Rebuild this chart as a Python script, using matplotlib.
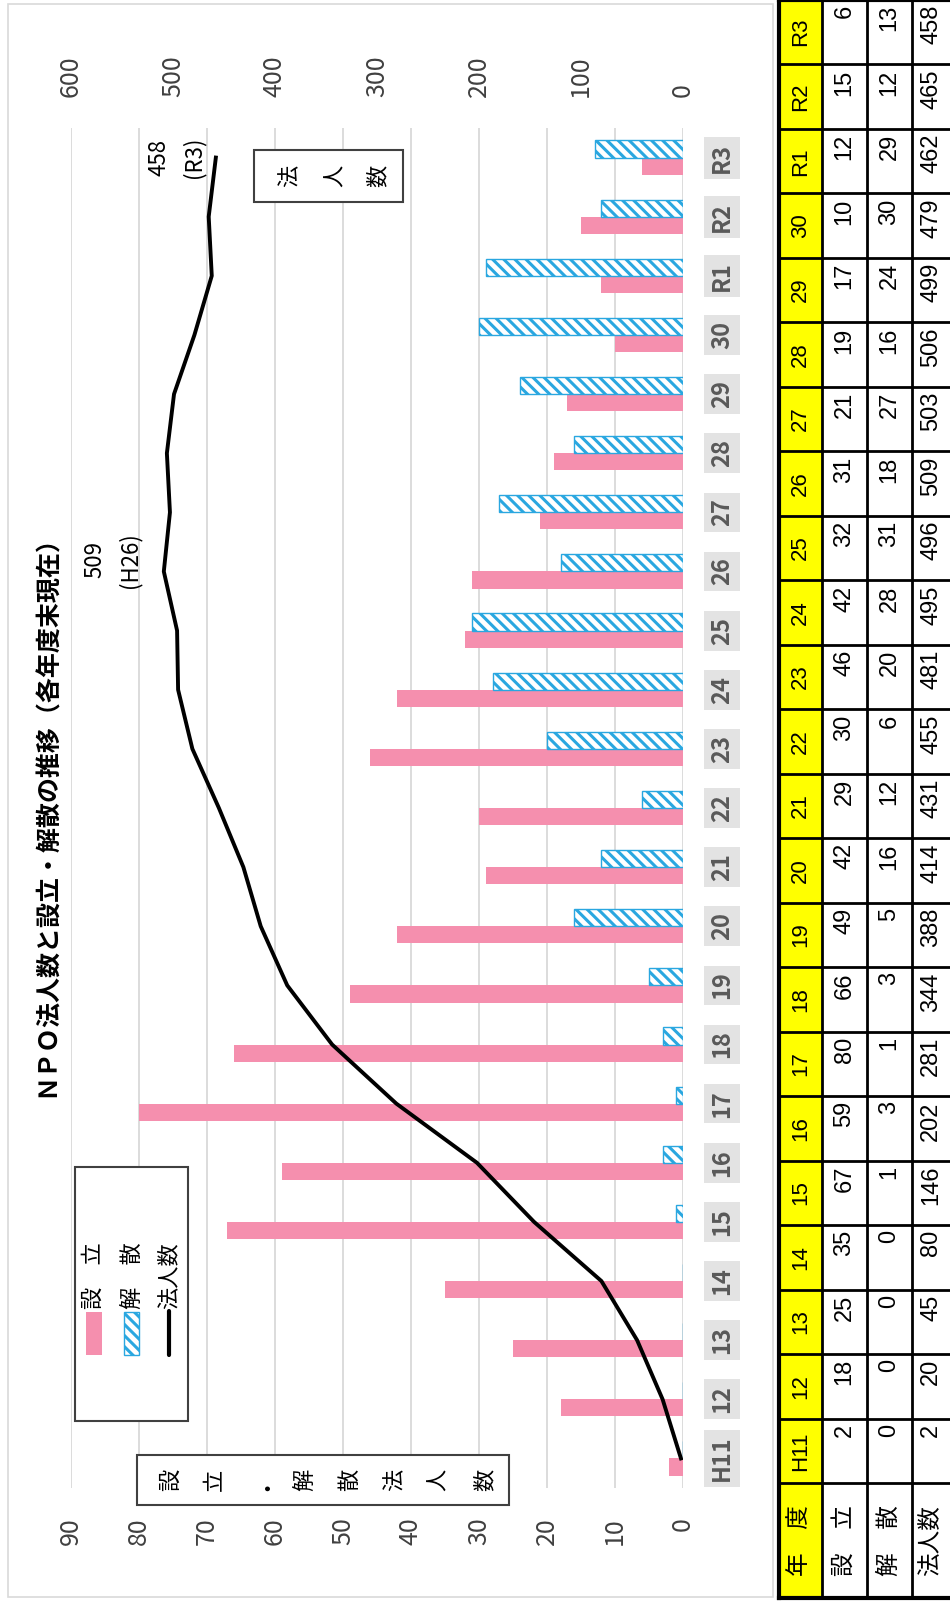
import matplotlib
matplotlib.use("Agg")
import matplotlib.pyplot as plt
from matplotlib.patches import Rectangle
import numpy as np

plt.rcParams["font.family"] = ["Noto Sans CJK JP", "DejaVu Sans"]
plt.rcParams["hatch.linewidth"] = 2.2

# data (fiscal year end)
years = ["H11", "12", "13", "14", "15", "16", "17", "18", "19", "20", "21", "22",
         "23", "24", "25", "26", "27", "28", "29", "30", "R1", "R2", "R3"]
setsuritsu = [2, 18, 25, 35, 67, 59, 80, 66, 49, 42, 29, 30, 46, 42, 32, 31, 21, 19, 17, 10, 12, 15, 6]
kaisan = [0, 0, 0, 0, 1, 3, 1, 3, 5, 16, 12, 6, 20, 28, 31, 18, 27, 16, 24, 30, 29, 12, 13]
houjin = [2, 20, 45, 80, 146, 202, 281, 344, 388, 414, 431, 455, 481, 495, 496, 509, 503, 506,
          499, 479, 462, 465, 458]

PINK = "#F58FAE"
BLUE = "#2AA7E0"
GRID = "#D9D9D9"
TABLE_FONT = ["Liberation Sans", "Noto Sans CJK JP"]

W, H = 950, 1601
fig = plt.figure(figsize=(W / 100, H / 100), dpi=100)


def frac(x0, y0, x1, y1):
    # pixel box (image coords, y down) -> figure fraction
    return [x0 / W, 1 - y1 / H, (x1 - x0) / W, (y1 - y0) / H]


# main chart: rotated layout, values run right-to-left
ax = fig.add_axes(frac(71, 128, 683, 1488))
pos = np.arange(len(years))
bh = 0.29
ax.barh(pos - bh / 2, setsuritsu, height=bh, color=PINK, zorder=2)
ax.barh(pos + bh / 2, kaisan, height=bh, color="white", edgecolor=BLUE,
        hatch="\\\\\\", lw=1, zorder=2)
ax.set_xlim(90, 0)
ax.set_ylim(-0.5, len(years) - 0.5)
ax.set_xticks(range(0, 91, 10))
ax.grid(axis="x", color=GRID, lw=1.3)
ax.set_axisbelow(True)
for s in ax.spines.values():
    s.set_visible(False)
ax.tick_params(axis="x", length=0, pad=21, labelsize=18, labelcolor="#404040",
               labelrotation=90)
ax.yaxis.tick_right()
ax.set_yticks(pos, years, rotation=90, ha="center", va="center", fontweight="bold",
              bbox=dict(facecolor="#E3E3E3", edgecolor="none", pad=2.5))
ax.tick_params(axis="y", length=0, pad=28, labelsize=17, labelcolor="#595959")

ax2 = ax.twiny()
ax2.plot(houjin, pos, color="black", lw=2.8, zorder=3)
ax2.set_xlim(600, 0)
ax2.set_xticks(range(0, 601, 100))
ax2.tick_params(axis="x", length=0, pad=22, labelsize=18, labelcolor="#404040",
                labelrotation=90)
for s in ax2.spines.values():
    s.set_visible(False)
ax2.text(559, 15.2, "509\n(H26)", rotation=90, ha="center", va="center",
         fontsize=16, linespacing=1.6, multialignment="center")
ax2.text(497, 22, "458\n(R3)", rotation=90, ha="center", va="center",
         fontsize=16, linespacing=1.6, multialignment="center")

# overlay in pixel coordinates for frame, title, boxes and table
ov = fig.add_axes([0, 0, 1, 1], zorder=5)
ov.set_xlim(0, W)
ov.set_ylim(H, 0)
ov.axis("off")
ov.patch.set_alpha(0)

ov.add_patch(Rectangle((8, 4), 765, 1593, fill=False, ec=GRID, lw=1.2))
ov.text(47, 810, "ＮＰＯ法人数と設立・解散の推移（各年度末現在）", rotation=90,
        ha="center", va="center", fontsize=18, fontweight="bold")

# axis title boxes
ov.add_patch(Rectangle((137, 1455), 372, 50, fc="white", ec="#404040", lw=1.5))
for ch, x in zip("設立・解散法人数", [170, 215, 262, 305, 350, 395, 438, 485]):
    ov.text(x, 1480, ch, rotation=90, ha="center", va="center", fontsize=16)
ov.add_patch(Rectangle((254, 150), 149, 52, fc="white", ec="#404040", lw=1.5))
for ch, x in zip("法人数", [290, 335, 378]):
    ov.text(x, 176, ch, rotation=90, ha="center", va="center", fontsize=16)

# legend
ov.add_patch(Rectangle((75, 1167), 113, 254, fc="white", ec="#404040", lw=1.5))
ov.add_patch(Rectangle((86, 1312), 16, 43, fc=PINK, ec="none"))
ov.add_patch(Rectangle((124, 1312), 15, 43, fc="white", ec=BLUE, hatch="\\\\\\", lw=1))
ov.plot([169, 169], [1311, 1355], color="black", lw=3, solid_capstyle="round")
for label, x in zip(["設　立", "解　散", "法人数"], [93, 132, 169]):
    ov.text(x, 1309, label, rotation=90, ha="center", va="bottom", fontsize=16)

# data table
col_x = [779, 822, 867, 912, 990]
head_y = 1483
bottom_y = 1598
row_h = head_y / len(years)
ov.add_patch(Rectangle((col_x[0], 0), col_x[1] - col_x[0], bottom_y, fc="#FFFF00", ec="none"))
for xx in col_x:
    ov.plot([xx, xx], [0, bottom_y], color="black", lw=2)
for i in range(len(years) + 1):
    yy = head_y - i * row_h
    ov.plot([col_x[0], col_x[-1]], [yy, yy], color="black", lw=2)
ov.plot([col_x[0], col_x[-1]], [bottom_y, bottom_y], color="black", lw=3)
ov.plot([col_x[0], col_x[-1]], [0, 0], color="black", lw=3)
ov.plot([col_x[0], col_x[0]], [0, bottom_y], color="black", lw=3)

centers = [(col_x[k] + col_x[k + 1]) / 2 for k in range(3)] + [931]
for i, yr in enumerate(years):
    top = head_y - (i + 1) * row_h
    ov.text(centers[0], top + row_h / 2, yr, rotation=90, ha="center", va="center",
            fontsize=16, family=TABLE_FONT)
    for col, vals in zip(centers[1:], [setsuritsu, kaisan, houjin]):
        ov.text(col, top + 5, str(vals[i]), rotation=90, ha="center", va="top",
                fontsize=17, family=TABLE_FONT)
for label, x in zip(["年　度", "設　立", "解　散", "法人数"], centers):
    ov.text(x, (head_y + bottom_y) / 2, label, rotation=90, ha="center", va="center",
            fontsize=17, family=TABLE_FONT)

fig.savefig("out.png", dpi=100)
